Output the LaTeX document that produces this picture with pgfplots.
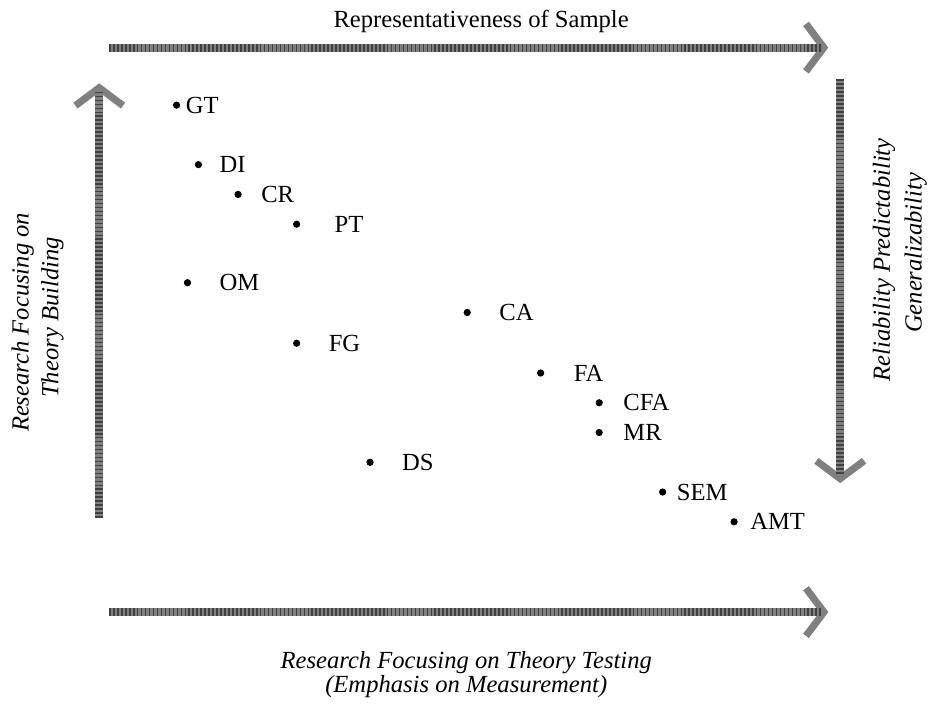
\documentclass[border=0pt]{standalone}
\usepackage{pgfplots}
\pgfplotsset{compat=1.18}
\usepackage{pgfplotstable}
\usepackage{fontspec}
\setmainfont{Liberation Serif}
\usetikzlibrary{arrows.meta}
\pgfplotstableread{
x   y   lx  lab
178 106 187 GT
200 166 221 DI
240 196 263 CR
299 226 337 PT
189 285 221 OM
471 315 503 CA
299 346 331 FG
545 376 578 FA
604 406 628 CFA
604 436 628 MR
373 466 405 DS
668 496 682 SEM
740 526 756 AMT
}\pts
\tikzset{hatch/.style={line width=4pt,draw=black!50},
hatchtop/.style={line width=4pt,draw=black!75,dash pattern=on 0.8pt off 1.2pt},
hd/.style={-{Straight Barb[length=9pt,width=24pt,line width=3.6pt]}}}
\newcommand\fs{\fontsize{12.4}{15}\selectfont}
\begin{document}
\fs
\begin{tikzpicture}
\begin{axis}[
  width=467.5pt,height=350pt,scale only axis,
  xmin=0,xmax=935,ymin=0,ymax=700,y dir=reverse,
  hide axis, clip=false,
]
\path (rel axis cs:0,0) rectangle (rel axis cs:1,1);
\addplot[only marks,mark=*,mark size=1.6pt,black] table[x=x,y=y] {\pts};
\addplot[only marks,mark=none,nodes near coords,point meta=explicit symbolic,
  nodes near coords style={anchor=west,inner sep=0pt,font=\fs}]
  table[x=lx,y=y,meta=lab] {\pts};
% arrows
\draw[hatch,hd] (axis cs:110,48) -- (axis cs:835,48);
\draw[hatchtop] (axis cs:110,48) -- (axis cs:828,48);
\draw[hatch,hd] (axis cs:110,617) -- (axis cs:835,617);
\draw[hatchtop] (axis cs:110,617) -- (axis cs:828,617);
\draw[hatch,hd] (axis cs:100,522) -- (axis cs:100,84);
\draw[hatchtop] (axis cs:100,522) -- (axis cs:100,91);
\draw[hatch,hd] (axis cs:847,80) -- (axis cs:847,487);
\draw[hatchtop] (axis cs:847,80) -- (axis cs:847,480);
% texts
\node[font=\fs] at (axis cs:485,22) {Representativeness of Sample};
\node[font=\itshape\fs] at (axis cs:470,668) {Research Focusing on Theory Testing};
\node[font=\itshape\fs] at (axis cs:470,692) {(Emphasis on Measurement)};
\node[rotate=90,font=\itshape\fs] at (axis cs:23,325) {Research Focusing on};
\node[rotate=90,font=\itshape\fs] at (axis cs:53,320) {Theory Building};
\node[rotate=90,font=\itshape\fs] at (axis cs:891,262) {Reliability Predictability};
\node[rotate=90,font=\itshape\fs] at (axis cs:923,255) {Generalizability};
\end{axis}
\end{tikzpicture}
\end{document}
